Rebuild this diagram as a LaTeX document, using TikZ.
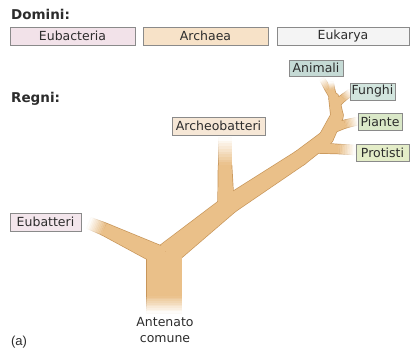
\documentclass[tikz,border=0pt]{standalone}
\usepackage{fontspec}
\setmainfont{DejaVu Sans}
\newfontfamily\arialfont{Liberation Sans}
\usetikzlibrary{calc}
\definecolor{treefill}{HTML}{EAC089}
\definecolor{treeedge}{HTML}{C8965A}
\definecolor{boxborder}{HTML}{8A8A8A}
\definecolor{textcol}{HTML}{2C2C2C}
\definecolor{cEubac}{HTML}{F2E2E9}
\definecolor{cArch}{HTML}{F7E2C8}
\definecolor{cEuk}{HTML}{F4F4F4}
\definecolor{cAnim}{HTML}{C5DAD5}
\definecolor{cFung}{HTML}{D2E5DE}
\definecolor{cPiant}{HTML}{DAE8C8}
\definecolor{cProt}{HTML}{E4EDC8}
\definecolor{cArcheo}{HTML}{F6E7D6}
\definecolor{cEubat}{HTML}{F3E6EC}
\tikzset{
  pieceout/.style={draw=treeedge!#1!white, fill=treefill!#1!white, line width=1.4pt, line join=round},
  piecein/.style={fill=treefill!#1!white},
  piecestyle/.style={pieceout=#1},
  lbl/.style={draw=boxborder, line width=0.6pt, font=\fontsize{12.5}{14}\selectfont, text=textcol, inner sep=0pt, anchor=center},
  head/.style={font=\fontsize{13.5}{15}\selectfont\bfseries, text=textcol, anchor=base west, inner sep=0pt},
}
\newcommand\piece[5]{%
  \path[piecestyle=#5] ($(#1)!#3!90:(#2)$) -- ($(#2)!#4!-90:(#1)$) -- ($(#2)!#4!90:(#1)$) -- ($(#1)!#3!-90:(#2)$) -- cycle;}
\newcommand\joint[3]{\path[piecestyle=#3] (#1) circle[radius=#2];}
\newcommand\fadebr[4]{%
  \foreach \k in {0,...,9}{%
    \pgfmathsetmacro\ta{\k/10}%
    \pgfmathsetmacro\tb{(\k+1)/10}%
    \pgfmathsetmacro\ha{#3+(#4-#3)*\ta}%
    \pgfmathsetmacro\hb{#3+(#4-#3)*\tb}%
    \pgfmathtruncatemacro\pc{100-10*\k-5}%
    \coordinate (fa) at ($(#1)!\ta!(#2)$);
    \coordinate (fb) at ($(#1)!\tb!(#2)$);
    \piece{fa}{fb}{\ha pt}{\hb pt}{\pc}
  }}
\newcommand\treeshape{%
  % trunk
  \fadebr{164,296}{164,313}{17.5}{17.5}
  \piece{164,296}{164,252}{17.5pt}{17.5pt}{100}
  % left branch
  \piece{163,257}{104,229}{9.5pt}{6pt}{100}
  \fadebr{104,229}{89,223}{6}{5.5}
  % archeobatteri branch
  \piece{226,208}{225,165}{8pt}{6.5pt}{100}
  \fadebr{225,165}{225,138}{6.5}{6.5}
  % main branch
  \piece{168,254}{230,204}{11.5pt}{9pt}{100}
  \joint{230,204}{9pt}{100}
  \piece{230,204}{300,158}{9pt}{7.5pt}{100}
  \joint{300,158}{7.5pt}{100}
  \piece{300,158}{326,138}{7.5pt}{7pt}{100}
  \joint{326,138}{7pt}{100}
  \piece{326,138}{337,116}{7pt}{6pt}{100}
  \joint{337,116}{6pt}{100}
  \piece{337,116}{334,98}{6pt}{5pt}{100}
  \joint{334,98}{5pt}{100}
  % protisti
  \piece{318,148}{338,149}{5pt}{4.5pt}{100}
  \fadebr{338,149}{355,150}{4.5}{4.5}
  % piante
  \piece{333,128}{345,124}{4.5pt}{3.8pt}{100}
  \fadebr{345,124}{358,121}{3.8}{3.5}
  % funghi
  \piece{336,104}{343,98}{3.8pt}{3.2pt}{100}
  \fadebr{343,98}{351,92}{3.2}{3}
  % top prongs
  \piece{334,98}{328,89}{3.5pt}{2.8pt}{100}
  \fadebr{328,89}{322,79}{2.8}{2.2}
  \piece{334,98}{332,90}{3pt}{2.5pt}{100}
  \fadebr{332,90}{331,82}{2.5}{2}
}
\begin{document}
\begin{tikzpicture}[x=1pt,y=-1pt]
\useasboundingbox[fill=white] (0,0) rectangle (411,351);
% tree: outline pass then fill pass
\treeshape
\tikzset{piecestyle/.style={piecein=#1}}
\treeshape
% headings
\node[head] (dom) at (11,19) {Domini:};
\node[head] (reg) at (11,102) {Regni:};
% domain boxes
\node[lbl, fill=cEubac, minimum width=125pt, minimum height=18pt] (eubac) at (72.5,36) {Eubacteria};
\node[lbl, fill=cArch, minimum width=125pt, minimum height=18pt] (arch) at (205.5,36) {Archaea};
\node[lbl, fill=cEuk, minimum width=132pt, minimum height=18pt] (euk) at (343,36) {Eukarya};
% kingdom boxes
\node[lbl, fill=cAnim, minimum width=54pt, minimum height=16pt] (anim) at (316,68) {Animali};
\node[lbl, fill=cFung, minimum width=45pt, minimum height=17pt] (fung) at (372.5,91.5) {Funghi};
\node[lbl, fill=cPiant, minimum width=44pt, minimum height=17pt] (piant) at (380,121.5) {Piante};
\node[lbl, fill=cProt, minimum width=53pt, minimum height=17pt] (prot) at (382.5,152.5) {Protisti};
\node[lbl, fill=cArcheo, minimum width=93pt, minimum height=18pt] (archeo) at (218.5,126) {Archeobatteri};
\node[lbl, fill=cEubat, minimum width=71pt, minimum height=18pt] (eubat) at (45.5,222) {Eubatteri};
% bottom labels
\node[font=\fontsize{12.5}{16}\selectfont, text=textcol, align=center, inner sep=0pt] (anc) at (165,330) {Antenato\\comune};
\node[font=\arialfont\fontsize{13}{15}\selectfont, text=textcol, inner sep=0pt] (alab) at (19,342) {(a)};
\end{tikzpicture}
\end{document}
